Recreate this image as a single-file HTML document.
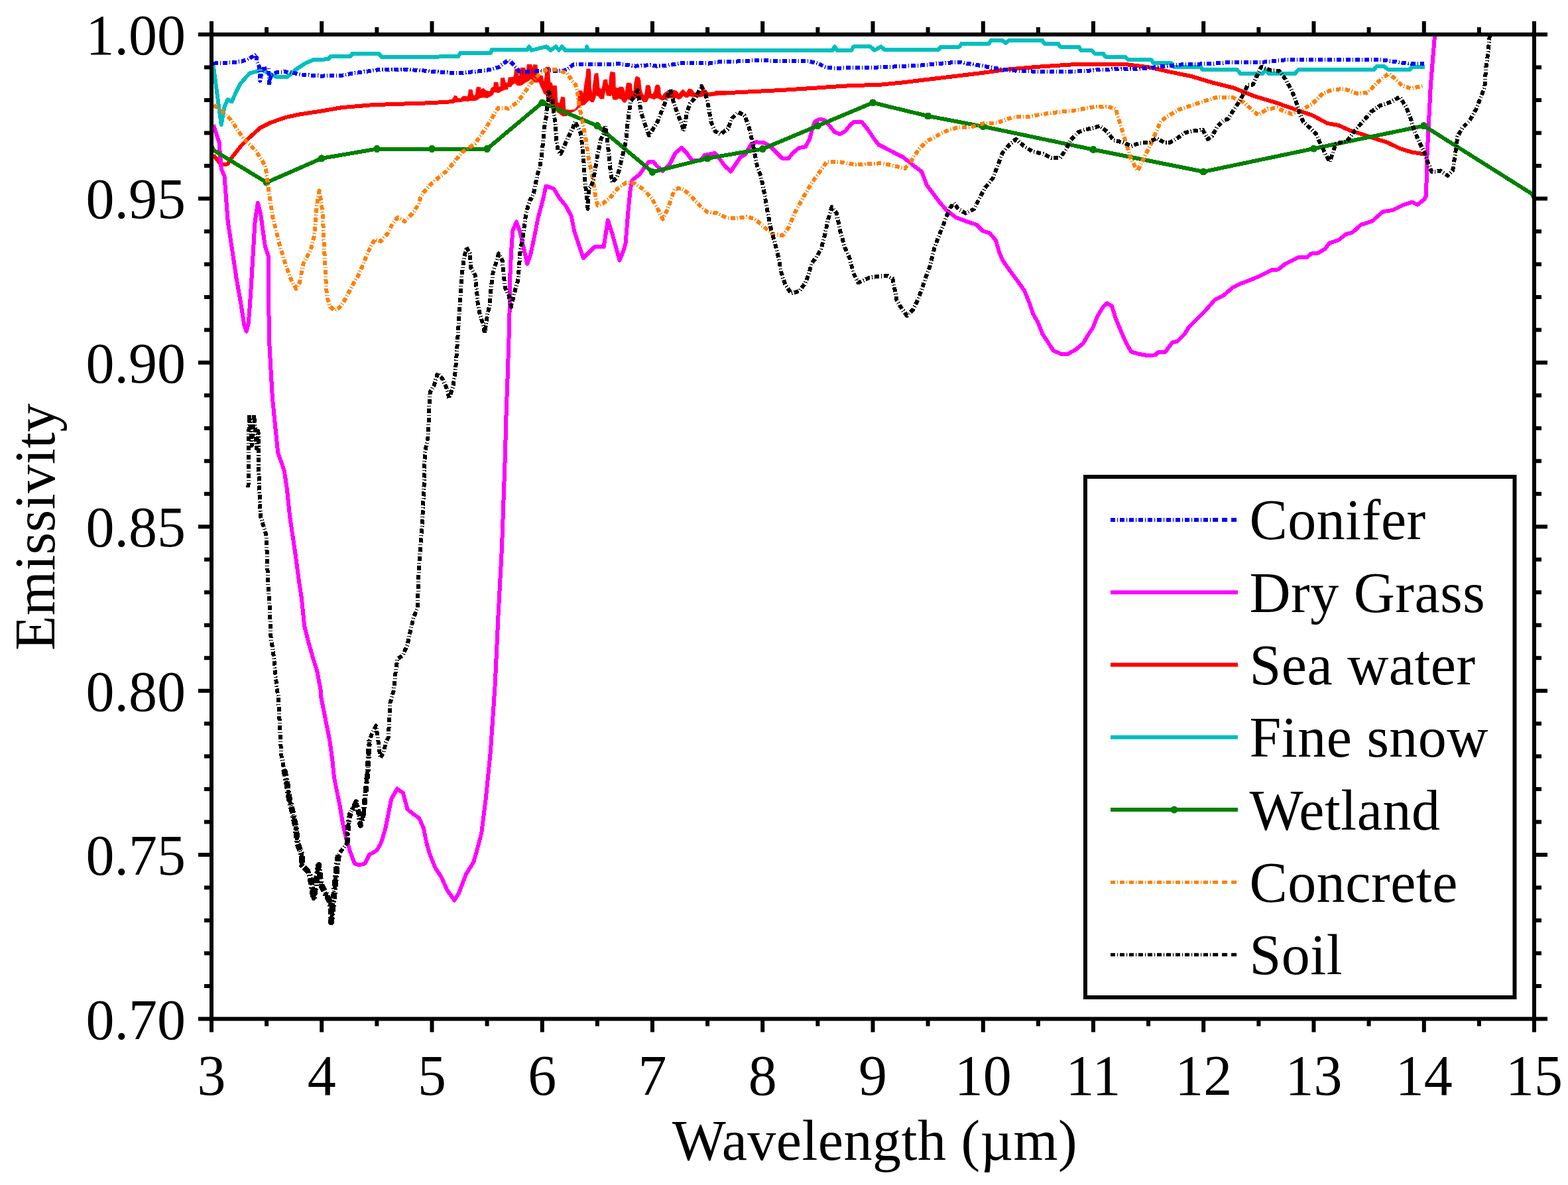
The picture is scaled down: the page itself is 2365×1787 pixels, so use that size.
<!DOCTYPE html>
<html><head><meta charset="utf-8"><title>Emissivity</title>
<style>
html,body{margin:0;padding:0;background:#fff;}
svg{display:block;}
text{font-family:'Liberation Serif','Times New Roman',serif;fill:#000;}
</style></head><body>
<svg width="2365" height="1787" viewBox="0 0 2365 1787">
<rect width="2365" height="1787" fill="#fff"/>

<defs><clipPath id="pc"><rect x="319.0" y="51.0" width="1995.0" height="1485.5"/></clipPath></defs>
<g clip-path="url(#pc)" fill="none" stroke-linejoin="round" shape-rendering="crispEdges">
<path d="M321.9,234.0 L333.7,248.3 L343.2,247.5 L351.1,235.6 L363.8,219.8 L376.5,207.2 L392.3,192.9 L408.1,185.0 L430.3,177.1 L452.4,172.3 L484.0,167.6 L515.7,162.1 L563.2,158.1 L610.6,156.5 L650.0,155.2 L682.0,153.2" stroke="#ff0000" stroke-width="6"/>
<path d="M1093.0,140.3 L1132.4,138.3 L1179.9,135.9 L1227.3,132.8 L1274.8,129.6 L1330.0,127.5 L1361.6,124.4 L1401.2,119.6 L1440.8,114.9 L1480.3,110.1 L1519.9,104.6 L1567.3,100.6 L1614.8,97.5 L1670.0,96.7 L1701.6,97.5 L1733.3,101.4 L1764.9,108.5 L1796.6,114.9 L1828.2,124.4 L1859.9,132.3 L1891.5,144.9 L1923.2,154.4 L1954.8,165.5 L1978.5,173.4 L2002.3,186.1 L2018.5,188.8 L2037.1,197.1 L2055.6,202.7 L2074.2,209.2 L2092.7,214.8 L2111.3,224.0 L2129.8,229.6 L2148.4,232.4" stroke="#ff0000" stroke-width="6"/>
<path d="M680.0,151.2 L684.0,147.7 L685.0,144.2 L689.4,145.2 L689.9,148.2 L694.4,148.7 L697.9,145.2 L703.9,145.2 L704.9,146.2 L706.4,142.2 L707.1,135.3 L712.3,135.3 L713.1,141.2 L714.8,144.7 L717.3,142.2 L718.3,134.3 L719.3,131.3 L724.8,131.8 L725.0,137.8 L726.2,134.3 L729.7,133.3 L732.2,136.3 L737.2,137.8 L739.7,137.3 L740.7,132.8 L744.6,130.8 L745.1,124.3 L751.1,124.3 L751.9,130.8 L755.1,130.8 L755.3,117.9 L760.6,117.4 L762.5,124.8 L766.0,124.8 L767.0,116.9 L774.5,116.4 L775.5,112.9 L776.5,104.2 L781.4,104.2 L782.9,118.9 L784.9,104.4 L785.0,102.4 L792.0,102.4 L792.5,109.9 L794.2,109.9 L795.0,97.5 L801.7,97.3 L803.3,102.9 L804.9,97.3 L810.3,98.1 L810.9,108.3 L814.1,114.2 L818.4,114.2 L820.0,125.6 L822.2,113.2 L823.0,101.3 L828.6,101.3 L829.7,123.9 L832.4,125.0 L833.5,129.3 L839.4,129.3 L841.0,154.7 L844.3,155.7 L846.4,146.0 L851.8,147.1 L852.9,165.4 L860.4,166.0 L866.9,165.4 L871.2,160.0 L872.3,136.9 L877.7,136.9 L879.8,141.7 L882.0,125.0 L884.1,113.7 L884.7,104.0 L890.1,104.0 L890.9,110.1 L891.4,132.1 L892.7,138.4 L893.6,141.1 L894.5,128.0 L895.4,122.1 L896.3,114.9 L897.2,111.0 L901.8,110.4 L903.1,119.9 L904.0,132.1 L905.4,133.9 L908.1,133.9 L909.0,128.0 L910.3,121.2 L911.2,120.1 L915.8,120.1 L916.7,127.1 L918.5,130.7 L919.4,116.2 L920.3,110.8 L921.2,108.1 L927.5,109.5 L928.0,115.3 L928.4,132.1 L932.5,133.0 L934.3,131.2 L939.7,131.2 L942.0,137.0 L942.9,142.0 L943.8,133.4 L945.2,125.3 L951.5,125.3 L952.8,127.5 L953.3,137.0 L955.6,137.9 L956.9,124.4 L958.7,116.2 L960.5,115.1 L964.6,117.2 L966.0,122.1 L966.9,133.4 L969.1,141.1 L971.8,144.7 L973.2,139.3 L974.1,129.4 L975.9,128.5 L979.5,128.5 L980.9,131.2 L982.2,142.0 L985.0,141.8 L987.0,136.8 L988.5,129.9 L990.0,127.9 L994.0,128.4 L995.7,131.9 L996.4,141.3 L998.4,144.8 L999.9,143.8 L1001.4,140.8 L1005.9,137.8 L1012.8,135.8 L1014.8,135.8 L1020.8,137.3 L1023.8,141.8 L1027.3,137.3 L1030.3,134.8 L1032.7,137.3 L1035.2,140.3 L1038.2,134.3 L1040.7,134.3 L1043.7,134.8 L1047.2,139.8 L1054.6,140.3 L1057.1,136.8 L1063.1,134.8 L1065.6,136.3 L1068.0,139.8 L1077.5,138.8 L1079.5,137.3 L1095.0,137.3 L1095.0,143.3 L1084.5,143.3 L1077.0,144.3 L1069.5,145.3 L1064.6,144.8 L1059.6,145.3 L1054.6,146.3 L1044.7,145.8 L1039.7,144.8 L1037.7,146.8 L1034.2,146.8 L1030.7,144.3 L1027.3,148.3 L1023.8,149.8 L1019.8,147.8 L1009.9,147.8 L1002.9,149.3 L999.9,151.2 L997.9,151.2 L994.9,149.3 L992.5,148.3 L990.0,147.8 L986.5,149.8 L982.7,148.3 L978.6,147.4 L975.9,153.3 L970.5,153.8 L966.9,149.2 L960.5,147.0 L955.6,150.6 L950.6,150.6 L946.5,149.2 L943.3,154.7 L939.7,153.8 L937.5,150.2 L933.4,148.3 L929.3,150.6 L924.4,149.7 L923.0,142.5 L920.7,144.7 L914.9,143.8 L913.5,135.2 L911.7,142.5 L910.8,148.8 L905.4,149.2 L901.8,144.3 L900.4,144.7 L899.0,142.9 L898.1,147.0 L895.4,153.8 L891.4,153.8 L890.0,151.1 L887.4,152.0 L882.0,157.9 L876.6,159.0 L871.2,164.4 L865.8,168.1 L860.4,169.7 L855.0,174.6 L848.6,175.1 L843.2,170.8 L840.0,168.7 L833.5,161.1 L830.3,157.9 L822.7,141.7 L820.6,141.7 L818.4,135.8 L815.2,129.9 L813.0,123.4 L808.2,124.5 L803.9,122.3 L801.2,118.6 L796.9,122.3 L793.1,123.9 L788.2,127.7 L785.0,128.8 L780.0,128.8 L777.0,125.3 L772.5,127.8 L771.0,130.8 L766.5,130.8 L765.5,134.8 L762.0,134.8 L757.6,136.8 L752.1,139.8 L745.1,138.8 L743.7,142.7 L740.7,144.7 L734.7,147.7 L729.7,146.7 L723.8,147.7 L719.8,150.7 L716.8,151.7 L711.8,151.7 L707.8,151.7 L706.9,152.7 L699.9,152.2 L694.9,153.7 L689.9,153.7 L686.0,154.2 L684.0,155.7 L680.0,155.7 Z" fill="#ff0000" stroke="#ff0000" stroke-width="0.8"/>
<path d="M321.9,188.2 L330.6,215.1 L333.7,254.6 L338.5,265.7 L343.7,333.9 L350.2,376.9 L356.6,420.0 L363.1,456.6 L368.5,491.1 L371.7,499.7 L374.9,486.8 L378.2,441.6 L381.4,387.7 L384.6,333.9 L388.9,305.9 L393.2,323.1 L399.7,370.5 L405.1,387.7 L405.1,452.3 L406.2,517.0 L410.9,600.0 L415.0,641.3 L419.2,682.6 L428.8,710.1 L432.9,737.6 L437.1,778.9 L441.2,806.4 L445.3,834.0 L450.8,875.3 L455.0,902.8 L459.1,944.1 L464.6,966.1 L470.1,985.4 L478.4,1012.9 L483.5,1040.0 L484.0,1050.0 L492.8,1094.3 L497.3,1116.4 L501.7,1149.6 L503.9,1171.8 L508.3,1193.9 L512.8,1216.0 L517.2,1242.6 L521.6,1262.5 L528.3,1284.7 L534.9,1302.4 L541.5,1304.6 L550.4,1302.4 L557.0,1289.1 L568.1,1282.5 L574.7,1271.4 L581.4,1249.2 L585.8,1227.1 L590.2,1205.0 L599.1,1189.5 L608.0,1196.1 L614.6,1220.5 L625.7,1229.3 L632.3,1233.8 L639.0,1249.2 L643.4,1271.4 L647.8,1286.9 L656.7,1309.0 L665.5,1322.3 L674.4,1342.2 L685.4,1357.7 L692.1,1346.7 L703.1,1317.9 L714.2,1300.2 L720.0,1280.0 L726.3,1256.1 L733.1,1201.5 L739.9,1133.2 L746.8,1030.9 L751.5,928.5 L757.0,826.1 L761.8,689.6 L763.7,620.0 L765.6,568.2 L767.5,510.7 L768.5,472.4 L769.4,414.9 L771.3,376.6 L773.3,347.9 L779.0,334.5 L784.8,351.7 L790.5,376.6 L795.3,397.7 L800.1,384.3 L805.8,357.5 L811.6,328.7 L819.2,300.0 L823.4,280.6 L835.3,284.6 L843.2,297.8 L853.7,310.9 L861.6,325.4 L866.2,348.3 L879.9,389.2 L896.9,372.2 L910.6,372.2 L916.9,332.0 L924.2,355.1 L934.5,392.6 L941.3,375.6 L943.6,366.6 L947.2,321.4 L950.8,285.2 L953.8,271.4 L964.3,263.5 L970.9,254.3 L978.8,243.8 L985.4,243.8 L990.7,250.3 L999.5,257.8 L1010.6,246.7 L1018.5,230.9 L1028.0,223.0 L1035.9,230.9 L1043.8,242.0 L1056.5,242.0 L1062.8,234.0 L1078.6,230.9 L1084.9,238.8 L1092.8,249.9 L1102.3,258.6 L1110.3,246.7 L1116.6,237.2 L1124.5,232.5 L1132.4,218.2 L1140.3,214.3 L1151.4,215.1 L1160.9,219.8 L1168.8,227.7 L1179.9,238.8 L1189.4,238.8 L1195.7,230.9 L1205.2,223.0 L1214.7,221.4 L1221.0,210.3 L1224.2,197.7 L1228.9,183.4 L1236.8,179.5 L1244.7,181.8 L1251.1,189.7 L1259.0,199.2 L1266.9,202.4 L1274.8,197.7 L1282.7,188.2 L1287.5,184.2 L1300.1,184.2 L1309.6,196.1 L1319.1,210.3 L1325.4,218.2 L1334.9,223.0 L1345.8,228.8 L1361.6,236.7 L1377.5,249.4 L1390.1,258.9 L1398.0,279.4 L1405.9,290.0 L1416.8,304.5 L1427.6,317.1 L1442.1,328.0 L1456.6,333.4 L1472.9,338.8 L1481.9,347.9 L1492.7,351.5 L1501.8,362.3 L1507.2,380.4 L1512.6,393.1 L1525.3,411.2 L1536.1,425.6 L1545.2,438.3 L1552.4,456.4 L1557.8,472.6 L1565.1,485.3 L1572.3,503.4 L1579.5,514.2 L1588.6,528.7 L1601.2,534.1 L1610.3,534.1 L1622.9,526.9 L1633.8,517.8 L1641.0,505.2 L1648.3,494.3 L1655.5,476.3 L1664.5,461.8 L1670.0,457.3 L1677.2,461.8 L1682.6,479.9 L1691.7,501.6 L1698.9,517.8 L1706.1,530.5 L1718.8,534.1 L1730.0,535.9 L1742.9,535.4 L1747.0,531.2 L1757.4,531.2 L1767.8,516.7 L1776.1,514.6 L1786.5,504.2 L1792.8,493.8 L1803.2,483.4 L1817.7,468.8 L1832.3,452.2 L1844.8,446.0 L1859.3,433.5 L1869.7,428.3 L1886.4,422.0 L1898.8,416.8 L1917.5,407.5 L1927.9,406.4 L1938.3,398.1 L1950.8,391.9 L1959.1,387.7 L1971.6,387.7 L1977.8,382.5 L1988.2,381.5 L1998.6,375.3 L2004.9,366.9 L2019.4,361.7 L2029.8,353.4 L2040.2,350.3 L2052.7,338.9 L2069.3,333.7 L2086.0,319.1 L2100.5,317.0 L2115.1,309.8 L2129.6,304.6 L2138.0,308.7 L2148.4,300.4 L2151.2,294.5 L2152.1,242.6 L2154.9,186.9 L2157.7,131.3 L2161.4,84.9 L2164.2,52.0" stroke="#ff00ff" stroke-width="6"/>
<path d="M321.9,99.6 L333.7,188.2 L338.5,161.3 L343.2,150.2 L349.6,153.4 L355.9,139.1 L362.2,126.5 L376.5,110.6 L387.5,107.5 L395.4,105.1 L404.9,110.6 L417.6,116.2 L433.4,116.2 L444.5,105.9 L460.3,95.6 L473.0,90.1 L495.1,89.3 L498.3,85.3 L528.4,85.3 L531.5,80.6 L537.8,81.4 L571.1,80.6 L575.8,86.1 L691.1,85.3 L694.3,79.8 L740.2,79.8 L741.8,75.0 L795.6,75.0 L797.9,70.3 L801.9,75.8 L824.0,70.3 L830.4,75.8 L838.3,70.3 L843.0,75.8 L847.8,70.3 L852.5,75.8 L884.2,75.8 L885.0,70.3 L887.3,75.8 L1255.8,75.8 L1259.0,70.3 L1262.2,75.8 L1284.3,75.8 L1287.5,70.3 L1312.8,70.3 L1319.1,75.8 L1328.6,70.3 L1334.7,75.3 L1415.4,75.3 L1418.6,70.6 L1447.1,70.6 L1450.3,65.8 L1491.4,65.8 L1494.6,61.1 L1512.0,61.1 L1516.7,65.0 L1521.5,61.1 L1572.1,61.1 L1575.3,65.8 L1595.8,65.8 L1599.0,70.6 L1627.5,70.6 L1630.6,76.1 L1646.5,76.1 L1651.2,80.9 L1663.9,80.9 L1667.0,85.6 L1696.9,85.6 L1701.6,90.3 L1736.5,90.3 L1739.6,95.1 L1766.5,95.1 L1769.7,100.6 L1810.8,100.6 L1814.0,105.4 L1866.2,105.4 L1870.9,110.9 L1904.2,110.9 L1908.9,105.4 L1913.7,110.9 L1953.2,110.9 L1958.0,105.4 L2072.3,105.3 L2076.1,100.1 L2087.2,100.1 L2094.6,105.3 L2126.1,105.3 L2129.8,100.7 L2149.3,100.7" stroke="#00bfbf" stroke-width="6"/>
<path d="M321.9,95.6 L352.7,94.0 L365.4,92.4 L376.5,88.5 L386.0,81.4 L387.5,91.6 L390.7,99.6 L392.3,121.7 L395.4,104.3 L404.9,102.7 L406.5,128.0 L408.1,113.8 L417.6,109.0 L430.3,108.3 L446.1,110.6 L458.7,113.0 L484.0,114.6 L515.7,113.8 L531.5,110.6 L555.3,107.5 L571.1,105.1 L610.6,104.6 L642.3,106.7 L650.0,107.5 L681.6,109.8 L697.5,109.8 L721.2,107.5 L738.6,105.1 L752.8,101.1 L767.1,90.1 L776.6,99.6 L782.9,107.5 L808.2,107.5 L824.0,105.9 L847.8,107.5 L855.7,104.3 L865.2,97.2 L887.3,97.2 L934.8,96.4 L958.5,99.6 L982.3,98.0 L990.0,99.6 L1005.8,98.8 L1029.6,94.8 L1053.3,94.8 L1069.1,95.6 L1084.9,93.2 L1116.6,92.4 L1140.3,90.9 L1164.1,91.6 L1195.7,91.6 L1219.4,92.4 L1233.7,95.6 L1246.3,101.9 L1259.0,102.7 L1330.0,101.4 L1361.6,99.8 L1393.3,98.3 L1417.0,95.9 L1436.0,94.3 L1450.3,94.3 L1464.5,96.7 L1480.3,99.1 L1496.1,102.2 L1512.0,104.6 L1535.7,107.0 L1567.3,107.8 L1614.8,107.8 L1638.5,107.0 L1662.3,104.6 L1670.0,104.6 L1717.5,103.8 L1749.1,100.6 L1780.8,97.5 L1828.2,95.9 L1859.9,93.5 L1907.3,93.5 L1939.0,90.3 L1986.5,90.3 L2037.1,89.6 L2074.2,89.6 L2092.7,91.4 L2111.3,94.2 L2129.8,96.1 L2147.5,96.1" stroke="#0000ff" stroke-width="6" stroke-dasharray="7 3 1.2 2.8"/>
<path d="M319.0,224.6 L402.1,275.2 L485.2,238.8 L568.4,224.6 L651.5,224.6 L734.6,224.6 L817.8,154.9 L900.9,189.7 L984.0,259.4 L1067.1,238.8 L1150.2,224.6 L1233.4,189.7 L1316.5,154.9 L1399.6,175.0 L1482.8,190.8 L1565.9,208.2 L1649.0,225.6 L1732.1,242.2 L1815.2,258.9 L1898.4,241.5 L1981.5,224.1 L2064.6,206.9 L2147.8,189.7 L2230.9,242.1 L2314.0,294.5" stroke="#008000" stroke-width="6"/>
<circle cx="319.0" cy="224.6" r="5.5" fill="#008000" stroke="none"/>
<circle cx="402.1" cy="275.2" r="5.5" fill="#008000" stroke="none"/>
<circle cx="485.2" cy="238.8" r="5.5" fill="#008000" stroke="none"/>
<circle cx="568.4" cy="224.6" r="5.5" fill="#008000" stroke="none"/>
<circle cx="651.5" cy="224.6" r="5.5" fill="#008000" stroke="none"/>
<circle cx="734.6" cy="224.6" r="5.5" fill="#008000" stroke="none"/>
<circle cx="817.8" cy="154.9" r="5.5" fill="#008000" stroke="none"/>
<circle cx="900.9" cy="189.7" r="5.5" fill="#008000" stroke="none"/>
<circle cx="984.0" cy="259.4" r="5.5" fill="#008000" stroke="none"/>
<circle cx="1067.1" cy="238.8" r="5.5" fill="#008000" stroke="none"/>
<circle cx="1150.2" cy="224.6" r="5.5" fill="#008000" stroke="none"/>
<circle cx="1233.4" cy="189.7" r="5.5" fill="#008000" stroke="none"/>
<circle cx="1316.5" cy="154.9" r="5.5" fill="#008000" stroke="none"/>
<circle cx="1399.6" cy="175.0" r="5.5" fill="#008000" stroke="none"/>
<circle cx="1482.8" cy="190.8" r="5.5" fill="#008000" stroke="none"/>
<circle cx="1649.0" cy="225.6" r="5.5" fill="#008000" stroke="none"/>
<circle cx="1815.2" cy="258.9" r="5.5" fill="#008000" stroke="none"/>
<circle cx="1981.5" cy="224.1" r="5.5" fill="#008000" stroke="none"/>
<circle cx="2147.8" cy="189.7" r="5.5" fill="#008000" stroke="none"/>
<circle cx="2314.0" cy="294.5" r="5.5" fill="#008000" stroke="none"/>
<path d="M321.9,158.9 L329.0,162.8 L336.9,169.2 L348.0,180.3 L357.5,194.5 L367.0,208.7 L376.5,218.2 L386.0,227.7 L393.9,240.4 L400.2,249.9 L402.4,265.0 L404.7,282.9 L406.9,297.9 L409.2,312.8 L411.4,327.8 L415.2,342.8 L418.9,357.7 L422.6,372.7 L426.4,384.6 L430.9,399.6 L435.4,411.6 L439.8,423.5 L446.6,435.5 L451.8,426.5 L454.8,411.6 L457.8,396.6 L463.8,386.1 L469.8,372.7 L473.5,357.7 L475.8,339.8 L477.2,317.3 L479.5,297.9 L481.7,287.4 L484.7,306.9 L487.0,324.8 L487.7,347.2 L489.2,377.2 L490.7,407.1 L492.2,437.0 L494.5,452.0 L498.2,462.4 L504.2,468.4 L511.7,463.9 L517.6,456.5 L525.1,443.0 L531.1,431.0 L540.1,416.1 L546.1,402.6 L552.1,387.6 L558.0,374.2 L565.5,360.7 L574.5,363.7 L585.0,351.7 L592.4,336.8 L599.9,327.8 L610.4,333.8 L622.4,321.8 L631.3,308.3 L634.3,297.9 L638.8,290.4 L649.3,278.4 L661.3,268.0 L673.7,257.8 L697.5,229.3 L716.5,216.6 L733.9,191.3 L751.3,162.8 L767.1,163.6 L781.3,153.4 L800.3,126.5 L816.1,109.0 L827.2,104.3 L839.9,105.1 L855.7,110.6 L861.6,120.0 L868.2,127.9 L872.2,146.3 L873.5,159.5 L877.4,176.6 L880.1,192.4 L884.0,212.2 L886.6,231.9 L890.6,251.7 L893.2,264.8 L895.9,280.6 L898.5,297.8 L901.1,309.6 L909.0,307.0 L919.6,299.1 L931.4,284.6 L944.6,275.4 L957.7,276.7 L970.9,285.9 L983.4,299.7 L992.4,315.9 L999.7,330.4 L1006.9,315.9 L1012.3,299.7 L1017.8,285.2 L1026.8,283.4 L1039.5,292.4 L1052.1,306.9 L1066.6,319.6 L1081.0,321.4 L1095.5,328.6 L1110.0,329.5 L1126.3,326.8 L1138.9,330.4 L1153.4,343.1 L1166.0,353.9 L1180.5,354.8 L1189.5,343.1 L1198.6,321.4 L1209.4,301.5 L1218.5,285.2 L1229.3,268.9 L1238.4,256.3 L1247.4,243.6 L1262.2,243.5 L1290.6,248.3 L1330.0,246.2 L1345.8,249.4 L1364.8,254.1 L1374.3,243.0 L1385.4,225.6 L1398.0,213.0 L1412.3,205.1 L1428.1,197.2 L1443.9,192.4 L1464.5,191.6 L1483.5,186.1 L1504.1,185.3 L1527.8,176.6 L1551.5,175.8 L1575.3,171.8 L1599.0,168.7 L1622.7,166.3 L1646.5,161.6 L1670.0,160.8 L1682.7,163.9 L1687.4,179.7 L1692.2,195.6 L1698.5,216.1 L1704.8,236.7 L1711.1,249.4 L1715.9,257.3 L1722.2,244.6 L1728.5,232.0 L1736.5,216.1 L1744.4,197.2 L1750.7,182.9 L1761.8,175.0 L1777.6,165.5 L1796.6,159.2 L1820.3,151.3 L1836.1,146.5 L1859.9,147.3 L1875.7,154.4 L1888.4,165.5 L1897.8,173.4 L1912.1,163.9 L1926.3,163.1 L1939.0,168.7 L1948.5,171.8 L1962.7,165.5 L1978.5,157.6 L1996.0,140.2 L2010.2,135.4 L2024.1,134.1 L2033.4,135.9 L2048.2,141.5 L2063.1,139.6 L2077.9,123.9 L2094.6,110.9 L2103.9,118.3 L2115.0,129.4 L2128.0,133.2 L2147.5,129.4" stroke="#ff8000" stroke-width="6" stroke-dasharray="7 3 1.2 2.8"/>
<path d="M374.5,735.0 L374.8,680.0 L376.0,625.0 L380.0,672.0 L383.0,625.0 L387.0,676.0 L389.5,650.0 L390.3,710.0 L391.7,751.4 L393.0,778.9 L401.3,806.4 L402.7,834.0 L404.0,875.3 L406.8,916.5 L408.2,957.8 L412.3,985.4 L415.1,1012.9 L417.8,1040.4 L419.8,1050.0 L422.0,1094.3 L424.2,1138.6 L428.6,1160.7 L433.1,1182.8 L436.4,1205.0 L441.9,1227.1 L446.3,1249.2 L448.6,1271.4 L455.2,1289.1 L455.2,1304.6 L466.3,1315.7 L470.7,1337.8 L472.9,1355.5 L480.7,1304.6 L484.0,1333.4 L490.6,1346.7 L497.3,1359.9 L499.5,1371.0 L499.5,1390.9 L503.9,1348.9 L506.1,1326.7 L508.3,1304.6 L510.5,1289.1 L515.0,1282.5 L523.8,1271.4 L523.8,1260.3 L526.0,1238.2 L528.3,1227.1 L537.1,1209.4 L541.5,1227.1 L543.7,1244.8 L548.2,1227.1 L550.4,1205.0 L552.6,1182.8 L554.8,1160.7 L555.9,1138.6 L557.0,1116.4 L561.5,1105.3 L567.0,1094.3 L570.3,1116.4 L573.6,1143.0 L579.2,1134.1 L581.4,1120.8 L585.8,1112.0 L588.5,1060.0 L594.0,1040.4 L596.7,1012.9 L599.5,993.6 L607.7,988.1 L614.6,971.6 L618.7,952.3 L624.2,930.3 L629.7,916.5 L631.1,875.3 L632.5,847.7 L636.6,792.7 L639.4,737.6 L640.8,682.6 L646.3,655.0 L646.8,620.0 L648.7,591.2 L654.5,581.6 L660.2,562.5 L667.9,572.0 L673.6,585.4 L677.5,600.8 L683.2,583.5 L687.0,558.6 L689.0,529.9 L690.9,501.1 L692.8,472.4 L694.7,443.7 L696.6,414.9 L699.5,392.0 L703.3,372.8 L709.1,382.4 L710.0,403.4 L716.7,414.9 L718.7,434.1 L720.6,457.1 L723.4,472.4 L729.2,491.6 L731.1,503.1 L734.9,476.2 L738.8,459.0 L740.7,434.1 L743.6,411.1 L748.4,395.8 L752.2,382.4 L757.9,393.9 L759.8,414.9 L761.8,434.1 L767.5,445.6 L771.3,462.8 L775.2,443.7 L780.9,424.5 L782.8,405.4 L784.8,376.6 L788.6,357.5 L792.4,328.7 L796.2,311.5 L800.1,300.0 L801.1,300.4 L805.0,291.2 L810.3,264.8 L814.2,251.7 L816.9,235.9 L819.5,209.5 L820.8,193.7 L823.4,179.2 L824.8,163.4 L827.4,146.3 L827.4,138.4 L834.0,152.9 L835.3,172.7 L837.9,185.8 L839.2,212.2 L841.9,228.0 L845.8,231.9 L851.1,220.1 L857.7,205.6 L864.3,192.4 L866.9,183.2 L872.2,192.4 L876.1,201.6 L878.1,218.7 L880.1,238.5 L881.4,258.3 L882.7,278.0 L885.3,297.8 L886.6,314.9 L888.0,284.6 L891.9,280.6 L895.9,268.8 L897.2,255.6 L899.8,245.1 L901.1,231.9 L903.8,222.7 L906.4,209.5 L910.3,201.6 L913.0,189.8 L915.6,205.6 L916.9,218.7 L918.2,231.9 L919.6,245.1 L920.9,258.3 L923.5,275.4 L930.1,267.5 L934.1,255.6 L938.0,238.5 L941.9,222.7 L944.6,209.5 L945.9,192.4 L948.5,172.7 L951.2,152.9 L956.4,146.3 L961.7,135.8 L964.3,152.9 L967.0,170.0 L972.2,185.8 L978.8,204.3 L985.4,193.7 L992.0,183.2 L997.9,167.6 L1005.8,148.6 L1010.6,134.4 L1015.3,151.8 L1021.6,170.8 L1028.0,186.6 L1031.1,197.7 L1035.9,170.8 L1040.6,156.5 L1050.1,145.4 L1058.0,129.6 L1064.4,142.3 L1069.1,162.8 L1072.3,183.4 L1078.6,197.7 L1086.5,202.4 L1097.6,194.5 L1103.9,178.7 L1113.4,169.2 L1122.9,173.9 L1129.2,189.7 L1134.0,210.3 L1137.2,226.1 L1141.9,249.9 L1148.0,267.1 L1153.4,294.2 L1157.0,315.9 L1162.4,343.1 L1167.8,363.0 L1173.3,384.7 L1178.7,411.8 L1184.1,428.1 L1193.2,442.5 L1205.8,438.9 L1214.9,426.3 L1220.3,411.8 L1223.9,397.3 L1231.1,388.3 L1238.4,375.6 L1243.8,355.7 L1249.2,330.4 L1254.6,312.3 L1261.9,321.4 L1267.3,348.5 L1274.5,373.8 L1281.8,390.1 L1287.2,411.8 L1294.4,426.3 L1310.7,419.0 L1321.5,417.2 L1339.0,415.7 L1346.3,420.2 L1349.9,438.3 L1352.6,452.7 L1358.9,463.6 L1368.0,476.3 L1377.0,467.2 L1384.2,452.7 L1391.5,432.9 L1396.9,416.6 L1402.3,402.1 L1406.0,387.6 L1409.6,373.2 L1415.0,358.7 L1422.2,340.6 L1427.6,326.2 L1433.1,313.5 L1438.5,306.3 L1445.7,315.3 L1456.6,321.6 L1469.2,315.3 L1476.5,300.8 L1485.1,284.2 L1497.7,268.4 L1505.6,247.8 L1512.0,230.4 L1523.0,217.7 L1532.5,209.8 L1545.2,220.9 L1557.8,228.8 L1573.7,232.0 L1586.3,238.3 L1599.0,238.3 L1608.5,224.1 L1614.8,211.4 L1627.5,198.7 L1643.3,194.0 L1659.1,190.0 L1670.0,198.7 L1679.5,211.4 L1693.7,214.6 L1706.4,220.1 L1717.5,216.1 L1733.3,214.6 L1744.4,208.2 L1755.4,214.6 L1764.9,214.6 L1776.0,208.2 L1787.1,200.3 L1801.3,197.2 L1814.0,195.6 L1821.9,209.8 L1828.2,205.1 L1836.1,190.8 L1845.6,181.3 L1852.0,179.7 L1859.9,167.1 L1869.4,152.8 L1877.3,138.6 L1882.0,127.5 L1889.9,127.5 L1896.3,113.3 L1902.6,100.6 L1915.3,105.4 L1929.5,107.0 L1939.0,119.6 L1948.5,137.0 L1954.8,152.8 L1959.6,168.7 L1965.9,184.5 L1975.4,192.4 L1984.9,201.9 L1991.2,216.1 L1999.1,232.0 L2005.5,244.0 L2014.8,216.6 L2031.5,212.9 L2044.5,196.2 L2053.8,185.1 L2068.6,168.4 L2081.6,159.1 L2098.3,153.6 L2111.3,146.1 L2120.6,161.0 L2128.0,179.5 L2133.6,198.1 L2141.0,214.8 L2148.4,229.6 L2154.0,246.3 L2159.5,259.3 L2172.5,257.4 L2183.6,264.9 L2191.1,257.4 L2194.8,233.3 L2198.5,205.5 L2205.9,192.5 L2217.0,181.4 L2226.3,164.7 L2233.7,146.1 L2239.3,131.3 L2241.1,103.5 L2244.9,75.6 L2246.7,55.0" stroke="#000" stroke-width="6" stroke-dasharray="7 3 1.2 2.8"/>
<path d="M428.6,1160.7 L433.1,1182.8 L436.4,1205.0 L441.9,1227.1 L446.3,1249.2 L448.6,1271.4 L455.2,1289.1 L455.2,1304.6 L466.3,1315.7 L470.7,1337.8 L472.9,1355.5 L480.7,1304.6 L484.0,1333.4 L490.6,1346.7 L497.3,1359.9 L499.5,1371.0 L499.5,1390.9 L503.9,1348.9 L506.1,1326.7 L508.3,1304.6 L510.5,1289.1" stroke="#000" stroke-width="9" stroke-dasharray="10 4 2 3" fill="none"/>
<path d="M523.8,1271.4 L523.8,1260.3 L526.0,1238.2 L528.3,1227.1 L537.1,1209.4 L541.5,1227.1 L543.7,1244.8 L548.2,1227.1 L550.4,1205.0 L552.6,1182.8 L554.8,1160.7 L555.9,1138.6 L557.0,1116.4" stroke="#000" stroke-width="8" stroke-dasharray="8 5 2 4" fill="none"/>
</g>
<rect x="319.0" y="52.0" width="1995.0" height="1484.5" fill="none" stroke="#000" stroke-width="6"/>
<path d="M319.0,1536.5 V1556.5 M319.0,52.0 V32.0 M402.1,1536.5 V1547.5 M402.1,52.0 V41.0 M485.2,1536.5 V1556.5 M485.2,52.0 V32.0 M568.4,1536.5 V1547.5 M568.4,52.0 V41.0 M651.5,1536.5 V1556.5 M651.5,52.0 V32.0 M734.6,1536.5 V1547.5 M734.6,52.0 V41.0 M817.8,1536.5 V1556.5 M817.8,52.0 V32.0 M900.9,1536.5 V1547.5 M900.9,52.0 V41.0 M984.0,1536.5 V1556.5 M984.0,52.0 V32.0 M1067.1,1536.5 V1547.5 M1067.1,52.0 V41.0 M1150.2,1536.5 V1556.5 M1150.2,52.0 V32.0 M1233.4,1536.5 V1547.5 M1233.4,52.0 V41.0 M1316.5,1536.5 V1556.5 M1316.5,52.0 V32.0 M1399.6,1536.5 V1547.5 M1399.6,52.0 V41.0 M1482.8,1536.5 V1556.5 M1482.8,52.0 V32.0 M1565.9,1536.5 V1547.5 M1565.9,52.0 V41.0 M1649.0,1536.5 V1556.5 M1649.0,52.0 V32.0 M1732.1,1536.5 V1547.5 M1732.1,52.0 V41.0 M1815.2,1536.5 V1556.5 M1815.2,52.0 V32.0 M1898.4,1536.5 V1547.5 M1898.4,52.0 V41.0 M1981.5,1536.5 V1556.5 M1981.5,52.0 V32.0 M2064.6,1536.5 V1547.5 M2064.6,52.0 V41.0 M2147.8,1536.5 V1556.5 M2147.8,52.0 V32.0 M2230.9,1536.5 V1547.5 M2230.9,52.0 V41.0 M2314.0,1536.5 V1556.5 M2314.0,52.0 V32.0 M319.0,52.0 H299.0 M2314.0,52.0 H2334.0 M319.0,101.5 H308.0 M2314.0,101.5 H2325.0 M319.0,151.0 H308.0 M2314.0,151.0 H2325.0 M319.0,200.4 H308.0 M2314.0,200.4 H2325.0 M319.0,249.9 H308.0 M2314.0,249.9 H2325.0 M319.0,299.4 H299.0 M2314.0,299.4 H2334.0 M319.0,348.9 H308.0 M2314.0,348.9 H2325.0 M319.0,398.4 H308.0 M2314.0,398.4 H2325.0 M319.0,447.9 H308.0 M2314.0,447.9 H2325.0 M319.0,497.4 H308.0 M2314.0,497.4 H2325.0 M319.0,546.8 H299.0 M2314.0,546.8 H2334.0 M319.0,596.3 H308.0 M2314.0,596.3 H2325.0 M319.0,645.8 H308.0 M2314.0,645.8 H2325.0 M319.0,695.3 H308.0 M2314.0,695.3 H2325.0 M319.0,744.8 H308.0 M2314.0,744.8 H2325.0 M319.0,794.2 H299.0 M2314.0,794.2 H2334.0 M319.0,843.7 H308.0 M2314.0,843.7 H2325.0 M319.0,893.2 H308.0 M2314.0,893.2 H2325.0 M319.0,942.7 H308.0 M2314.0,942.7 H2325.0 M319.0,992.2 H308.0 M2314.0,992.2 H2325.0 M319.0,1041.7 H299.0 M2314.0,1041.7 H2334.0 M319.0,1091.2 H308.0 M2314.0,1091.2 H2325.0 M319.0,1140.6 H308.0 M2314.0,1140.6 H2325.0 M319.0,1190.1 H308.0 M2314.0,1190.1 H2325.0 M319.0,1239.6 H308.0 M2314.0,1239.6 H2325.0 M319.0,1289.1 H299.0 M2314.0,1289.1 H2334.0 M319.0,1338.6 H308.0 M2314.0,1338.6 H2325.0 M319.0,1388.0 H308.0 M2314.0,1388.0 H2325.0 M319.0,1437.5 H308.0 M2314.0,1437.5 H2325.0 M319.0,1487.0 H308.0 M2314.0,1487.0 H2325.0 M319.0,1536.5 H299.0 M2314.0,1536.5 H2334.0" stroke="#000" stroke-width="6" fill="none"/>
<text x="319.0" y="1651" font-size="86" text-anchor="middle">3</text>
<text x="485.2" y="1651" font-size="86" text-anchor="middle">4</text>
<text x="651.5" y="1651" font-size="86" text-anchor="middle">5</text>
<text x="817.8" y="1651" font-size="86" text-anchor="middle">6</text>
<text x="984.0" y="1651" font-size="86" text-anchor="middle">7</text>
<text x="1150.2" y="1651" font-size="86" text-anchor="middle">8</text>
<text x="1316.5" y="1651" font-size="86" text-anchor="middle">9</text>
<text x="1482.8" y="1651" font-size="86" text-anchor="middle">10</text>
<text x="1649.0" y="1651" font-size="86" text-anchor="middle">11</text>
<text x="1815.2" y="1651" font-size="86" text-anchor="middle">12</text>
<text x="1981.5" y="1651" font-size="86" text-anchor="middle">13</text>
<text x="2147.8" y="1651" font-size="86" text-anchor="middle">14</text>
<text x="2314.0" y="1651" font-size="86" text-anchor="middle">15</text>
<text x="280" y="82.0" font-size="86" text-anchor="end">1.00</text>
<text x="280" y="329.4" font-size="86" text-anchor="end">0.95</text>
<text x="280" y="576.8" font-size="86" text-anchor="end">0.90</text>
<text x="280" y="824.3" font-size="86" text-anchor="end">0.85</text>
<text x="280" y="1071.7" font-size="86" text-anchor="end">0.80</text>
<text x="280" y="1319.1" font-size="86" text-anchor="end">0.75</text>
<text x="280" y="1566.5" font-size="86" text-anchor="end">0.70</text>
<text x="1319.5" y="1749" font-size="86" text-anchor="middle" letter-spacing="0.5">Wavelength (µm)</text>
<text transform="translate(81.5,794.5) rotate(-90)" x="0" y="0" font-size="86" text-anchor="middle" letter-spacing="0.5">Emissivity</text>
<rect x="1637" y="719" width="647.5" height="785" fill="#fff" stroke="#000" stroke-width="6"/>
<path d="M1675,783.9 H1827" stroke="#0000ff" stroke-width="6" fill="none" stroke-dasharray="7 3 1.2 2.8"/>
<rect x="1829.2" y="780.9" width="8" height="6" fill="#0000ff"/>
<rect x="1843.1" y="780.9" width="8" height="6" fill="#0000ff"/>
<rect x="1857.1" y="780.9" width="8" height="6" fill="#0000ff"/>
<text x="1884.5" y="813.4" font-size="86" letter-spacing="0.5">Conifer</text>
<path d="M1675,893.2 H1867" stroke="#ff00ff" stroke-width="6" fill="none"/>
<text x="1884.5" y="922.7" font-size="86" letter-spacing="0.5">Dry Grass</text>
<path d="M1675,1002.5 H1867" stroke="#ff0000" stroke-width="6" fill="none"/>
<text x="1884.5" y="1032.0" font-size="86" letter-spacing="0.5">Sea water</text>
<path d="M1675,1111.8 H1867" stroke="#00bfbf" stroke-width="6" fill="none"/>
<text x="1884.5" y="1141.3" font-size="86" letter-spacing="0.5">Fine snow</text>
<path d="M1675,1221.1 H1867" stroke="#008000" stroke-width="6" fill="none"/>
<circle cx="1771" cy="1221.1" r="5.5" fill="#008000"/>
<text x="1884.5" y="1250.6" font-size="86" letter-spacing="0.5">Wetland</text>
<path d="M1675,1330.4 H1827" stroke="#ff8000" stroke-width="5" fill="none" stroke-dasharray="7 3 1.2 2.8"/>
<rect x="1829.2" y="1327.9" width="8" height="5" fill="#ff8000"/>
<rect x="1843.1" y="1327.9" width="8" height="5" fill="#ff8000"/>
<rect x="1857.1" y="1327.9" width="8" height="5" fill="#ff8000"/>
<text x="1884.5" y="1359.9" font-size="86" letter-spacing="0.5">Concrete</text>
<path d="M1675,1439.7 H1827" stroke="#000" stroke-width="5" fill="none" stroke-dasharray="7 3 1.2 2.8"/>
<rect x="1829.2" y="1437.2" width="8" height="5" fill="#000"/>
<rect x="1843.1" y="1437.2" width="8" height="5" fill="#000"/>
<rect x="1857.1" y="1437.2" width="8" height="5" fill="#000"/>
<text x="1884.5" y="1469.2" font-size="86" letter-spacing="0.5">Soil</text>
</svg></body></html>
